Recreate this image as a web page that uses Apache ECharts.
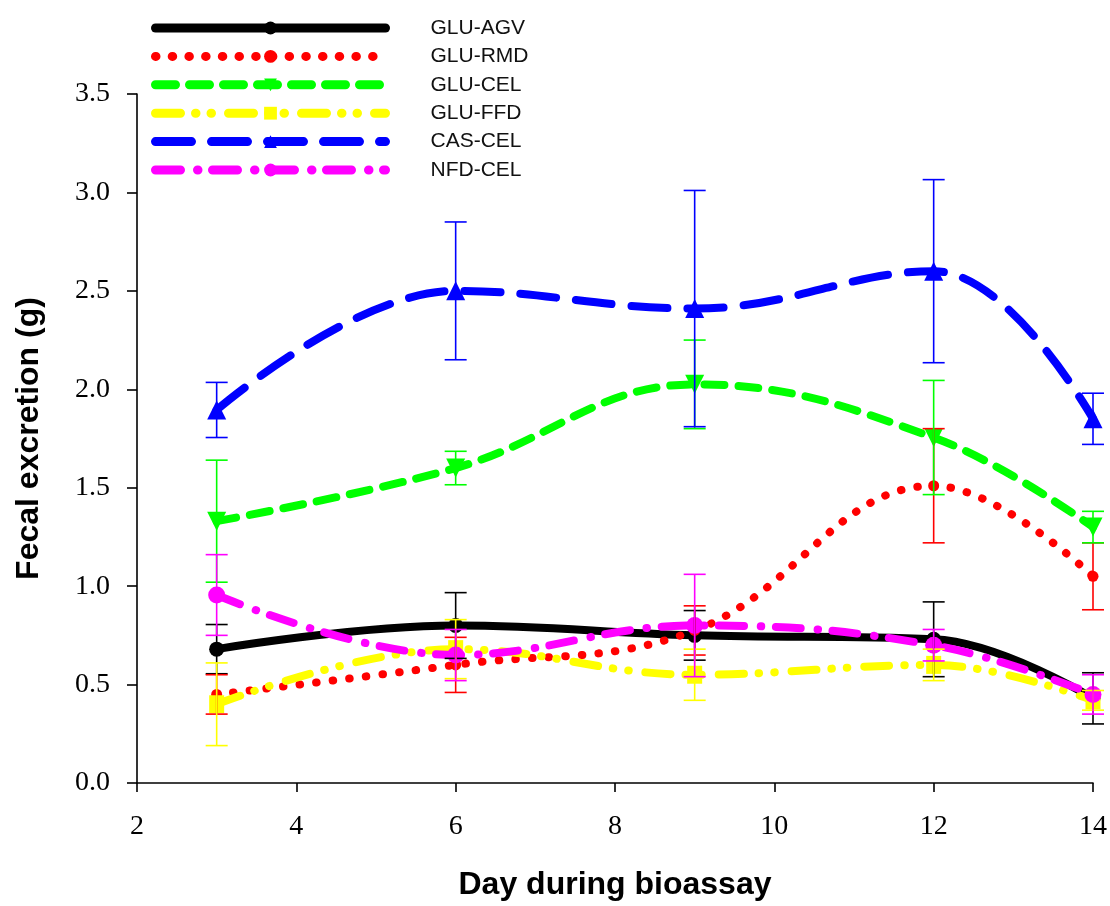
<!DOCTYPE html>
<html>
<head>
<meta charset="utf-8">
<script src="https://cdn.jsdelivr.net/npm/echarts@6/dist/echarts.min.js"></script>
<style>html,body{margin:0;padding:0;background:#fff;}#chart{width:1110px;height:906px;}</style>
</head>
<body>
<div id="chart"></div>
<script>
// ---- data ----
const days = [3, 6, 9, 12, 14];
const seriesNames = ['GLU-AGV', 'GLU-RMD', 'GLU-CEL', 'GLU-FFD', 'CAS-CEL', 'NFD-CEL'];
const gluAgv   = [0.68, 0.80, 0.75, 0.73, 0.43];
const gluAgvSe = [0.125, 0.167, 0.126, 0.19, 0.13];
const gluRmd   = [0.45, 0.60, 0.775, 1.51, 1.05];
const gluRmdSe = [0.10, 0.14, 0.125, 0.29, 0.17];
const gluCel   = [1.33, 1.60, 2.025, 1.755, 1.30];
const gluCelSe = [0.31, 0.085, 0.225, 0.29, 0.08];
const gluFfd   = [0.40, 0.68, 0.55, 0.60, 0.42];
const gluFfdSe = [0.21, 0.15, 0.13, 0.08, 0.05];
const casCel   = [1.895, 2.50, 2.41, 2.60, 1.85];
const casCelSe = [0.14, 0.35, 0.60, 0.465, 0.13];
const nfdCel   = [0.955, 0.65, 0.80, 0.70, 0.45];
const nfdCelSe = [0.205, 0.13, 0.26, 0.08, 0.10];
const yTicks = [0, 0.5, 1.0, 1.5, 2.0, 2.5, 3.0, 3.5];
const xTicks = [2, 4, 6, 8, 10, 12, 14];

// ---- styles ----
const styles = [
  {color: '#000000', dash: 'solid', symbol: 'circle', size: 15, rotate: 0},
  {color: '#ff0000', dash: [0.5, 16.2], symbol: 'circle', size: 11, rotate: 0},
  {color: '#00ff00', dash: [20, 14], symbol: 'triangle', size: 19, rotate: 180},
  {color: '#ffff00', dash: [25, 15, 0.5, 15, 0.5, 17], symbol: 'rect', size: [15, 18], rotate: 0},
  {color: '#0000ff', dash: [36, 20], symbol: 'triangle', size: 19, rotate: 0},
  {color: '#ff00ff', dash: [25, 17, 0.5, 14.5], symbol: 'circle', size: 17, rotate: 0}
];
const means = [gluAgv, gluRmd, gluCel, gluFfd, casCel, nfdCel];
const ses = [gluAgvSe, gluRmdSe, gluCelSe, gluFfdSe, casCelSe, nfdCelSe];

const series = [];
means.forEach((m, i) => {
  const st = styles[i];
  series.push({
    name: seriesNames[i],
    type: 'line',
    smooth: 0.4,
    data: days.map((d, k) => [d, m[k]]),
    symbol: st.symbol,
    symbolSize: st.size,
    symbolRotate: st.rotate,
    showAllSymbol: true,
    lineStyle: {color: st.color, width: 8, type: st.dash, cap: 'round', join: 'round'},
    itemStyle: {color: st.color, borderWidth: 0},
    z: 2 + i * 0.01,
    animation: false
  });
});
means.forEach((m, i) => {
  const st = styles[i];
  series.push({
    name: 'err' + i,
    type: 'custom',
    data: days.map((d, k) => [d, m[k] - ses[i][k], m[k] + ses[i][k]]),
    encode: {x: 0, y: [1, 2]},
    renderItem: function (params, api) {
      const lo = api.coord([api.value(0), api.value(1)]);
      const hi = api.coord([api.value(0), api.value(2)]);
      const hw = 11;
      const s = {stroke: st.color, lineWidth: 1.6};
      return {
        type: 'group',
        children: [
          {type: 'line', shape: {x1: lo[0], y1: lo[1], x2: hi[0], y2: hi[1]}, style: s},
          {type: 'line', shape: {x1: lo[0] - hw, y1: lo[1], x2: lo[0] + hw, y2: lo[1]}, style: s},
          {type: 'line', shape: {x1: hi[0] - hw, y1: hi[1], x2: hi[0] + hw, y2: hi[1]}, style: s}
        ]
      };
    },
    z: 3,
    silent: true,
    animation: false
  });
});

const chart = echarts.init(document.getElementById('chart'), null, {renderer: 'canvas'});
chart.setOption({
  animation: false,
  backgroundColor: '#ffffff',
  grid: {left: 137, right: 17, top: 94, bottom: 122.5, containLabel: false},
  legend: {
    data: seriesNames,
    orient: 'vertical',
    left: 151,
    top: 17,
    padding: 0,
    itemWidth: 230,
    itemHeight: 16,
    itemGap: 6.4,
    lineStyle: {width: 9, cap: 'round'},
    textStyle: {fontFamily: 'Liberation Sans, Arial, sans-serif', fontSize: 21, color: '#111', lineHeight: 22, padding: [0, 0, 0, 40]},
    selectedMode: false
  },
  xAxis: {
    type: 'value',
    min: 2, max: 14, interval: 2,
    name: 'Day during bioassay',
    nameLocation: 'middle',
    nameGap: 86,
    nameTextStyle: {fontFamily: 'Liberation Sans, Arial, sans-serif', fontWeight: 'bold', fontSize: 32, color: '#000'},
    axisLine: {show: true, lineStyle: {color: '#000', width: 1.6}},
    axisTick: {show: true, inside: false, length: 9, lineStyle: {color: '#000', width: 1.6}},
    axisLabel: {margin: 30, fontFamily: 'Liberation Serif, Times New Roman, serif', fontSize: 28, color: '#000',
      customValues: xTicks, formatter: v => String(v)},
    splitLine: {show: false}
  },
  yAxis: {
    type: 'value',
    min: 0, max: 3.5, interval: 0.5,
    name: 'Fecal excretion (g)',
    nameLocation: 'middle',
    nameRotate: 90,
    nameGap: 92,
    nameTextStyle: {fontFamily: 'Liberation Sans, Arial, sans-serif', fontWeight: 'bold', fontSize: 32, color: '#000'},
    axisLine: {show: true, lineStyle: {color: '#000', width: 1.6}},
    axisTick: {show: true, inside: false, length: 10, lineStyle: {color: '#000', width: 1.6}},
    axisLabel: {margin: 27, fontFamily: 'Liberation Serif, Times New Roman, serif', fontSize: 28, color: '#000',
      customValues: yTicks, formatter: v => v.toFixed(1)},
    splitLine: {show: false}
  },
  series: series
});
</script>
</body>
</html>
